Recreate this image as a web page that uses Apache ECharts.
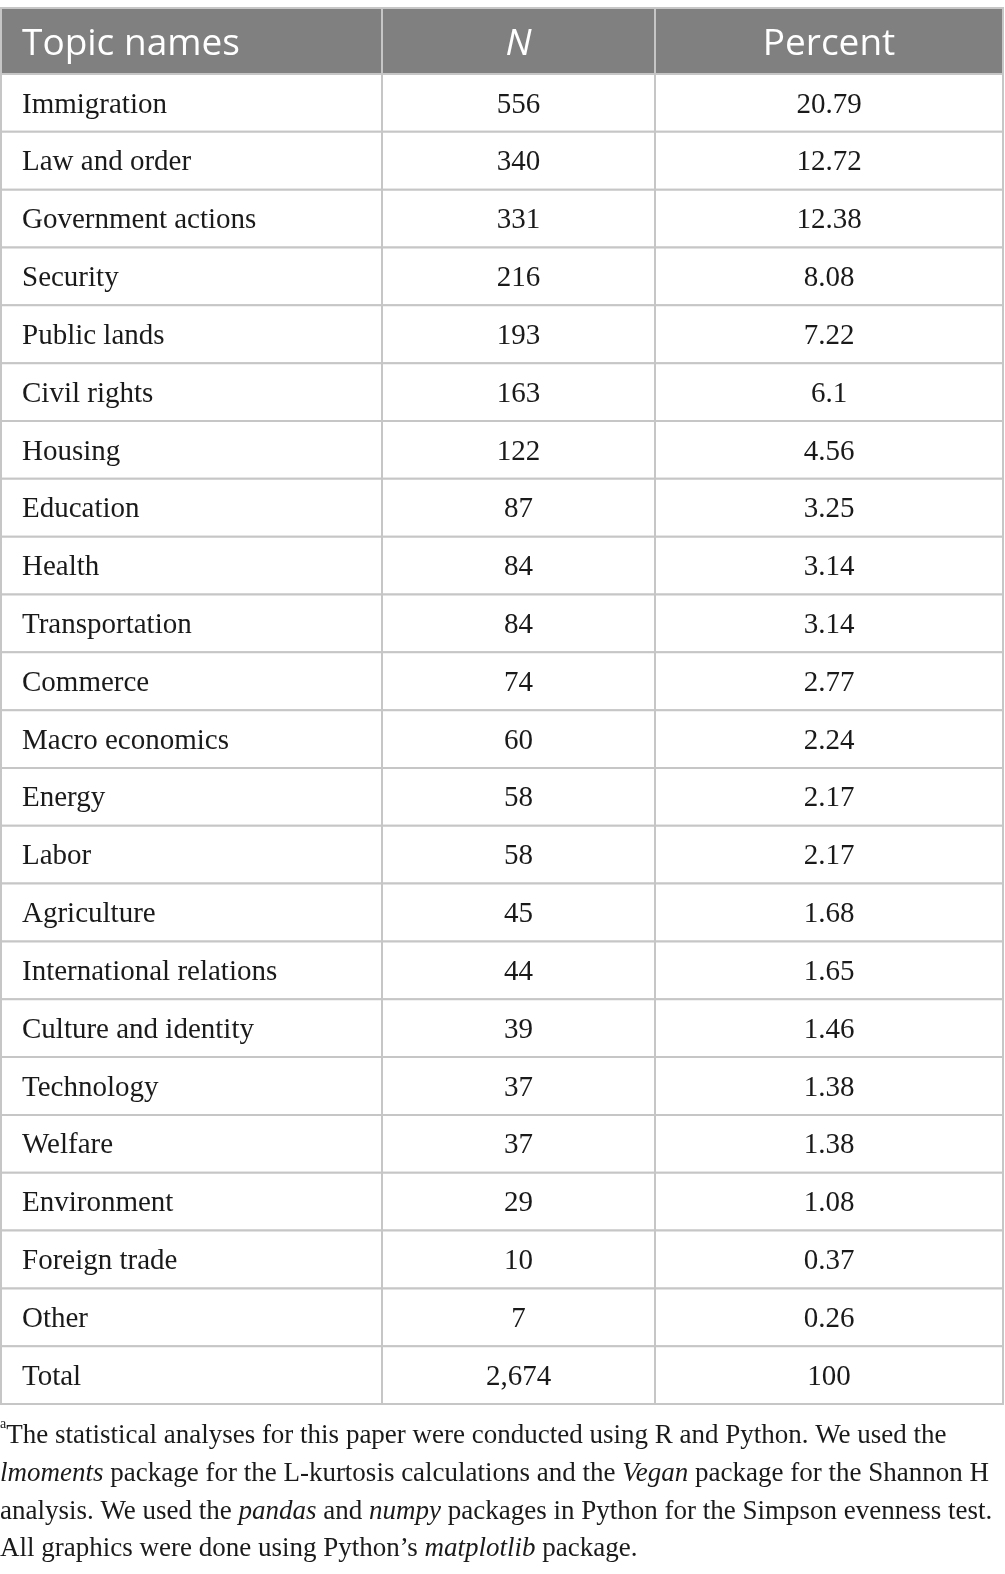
<!DOCTYPE html>
<html lang="en">
<head>
    <meta charset="UTF-8">
    <title>Topic names</title>
    <script src="https://cdn.jsdelivr.net/npm/echarts@6/dist/echarts.min.js"></script>
    <style>
        html, body { margin: 0; padding: 0; background: #fff; }
        #chart { width: 1005px; height: 1574px; }
    </style>
</head>
<body>
    <div id="chart"></div>
    <script>
        const headers = ['Topic names', 'N', 'Percent'];
        const topics = ['Immigration', 'Law and order', 'Government actions', 'Security', 'Public lands',
            'Civil rights', 'Housing', 'Education', 'Health', 'Transportation', 'Commerce',
            'Macro economics', 'Energy', 'Labor', 'Agriculture', 'International relations',
            'Culture and identity', 'Technology', 'Welfare', 'Environment', 'Foreign trade', 'Other', 'Total'];
        const counts = ['556', '340', '331', '216', '193', '163', '122', '87', '84', '84', '74',
            '60', '58', '58', '45', '44', '39', '37', '37', '29', '10', '7', '2,674'];
        const percents = ['20.79', '12.72', '12.38', '8.08', '7.22', '6.1', '4.56', '3.25', '3.14', '3.14', '2.77',
            '2.24', '2.17', '2.17', '1.68', '1.65', '1.46', '1.38', '1.38', '1.08', '0.37', '0.26', '100'];

        // layout of the table (axis units = px)
        const colEdges = [0, 381, 654, 1002];
        const headerH = 66;
        const rowH = 57.83;
        const rowEdge = (r) => r === 0 ? 0 : headerH + (r - 1) * rowH;

        const cells = [];
        headers.forEach((h, c) => cells.push({ value: [c, 0], text: h }));
        topics.forEach((t, i) => {
            cells.push({ value: [0, i + 1], text: t });
            cells.push({ value: [1, i + 1], text: counts[i] });
            cells.push({ value: [2, i + 1], text: percents[i] });
        });
        const totalH = rowEdge(topics.length + 1);

        function renderCell(params, api) {
            const c = api.value(0);
            const r = api.value(1);
            const p0 = api.coord([colEdges[c], rowEdge(r)]);
            const p1 = api.coord([colEdges[c + 1], rowEdge(r + 1)]);
            const isHead = r === 0;
            const txt = cells[params.dataIndex].text;
            const cx = c === 0 ? p0[0] + 21 : (p0[0] + p1[0]) / 2;
            return {
                type: 'group',
                children: [
                    {
                        type: 'rect',
                        shape: { x: p0[0], y: p0[1], width: p1[0] - p0[0], height: p1[1] - p0[1] },
                        style: { fill: isHead ? '#808080' : '#ffffff', stroke: '#c6c6c6', lineWidth: 2 }
                    },
                    {
                        type: 'text',
                        x: cx,
                        y: (p0[1] + p1[1]) / 2 + (isHead ? 3 : 2),
                        style: {
                            text: txt,
                            fill: isHead ? '#ffffff' : '#1a1a1a',
                            fontFamily: isHead ? 'Open Sans' : 'Liberation Serif',
                            fontSize: isHead ? 37 : 29,
                            fontStyle: isHead && c === 1 ? 'italic' : 'normal',
                            align: c === 0 ? 'left' : 'center',
                            verticalAlign: 'middle'
                        }
                    }
                ]
            };
        }

        const chart = echarts.init(document.getElementById('chart'));
        chart.setOption({
            animation: false,
            grid: { left: 1, top: 8, width: 1002, height: totalH },
            xAxis: { type: 'value', min: 0, max: 1002, show: false },
            yAxis: { type: 'value', min: 0, max: totalH, inverse: true, show: false },
            series: [{
                type: 'custom',
                renderItem: renderCell,
                data: cells,
                encode: { x: 0, y: 1 }
            }],
            graphic: [{
                type: 'text',
                left: 0,
                top: 1417,
                style: {
                    text: '{sup|a}{r|The statistical analyses for this paper were conducted using R and Python. We used the}\n' +
                        '{i|lmoments}{r| package for the L-kurtosis calculations and the }{i|Vegan}{r| package for the Shannon H}\n' +
                        '{r|analysis. We used the }{i|pandas}{r| and }{i|numpy}{r| packages in Python for the Simpson evenness test.}\n' +
                        '{r|All graphics were done using Python\u2019s }{i|matplotlib}{r| package.}',
                    fill: '#1a1a1a',
                    lineHeight: 37.8,
                    rich: {
                        r: { fontFamily: 'Liberation Serif', fontSize: 27, lineHeight: 37.8, fill: '#1a1a1a' },
                        i: { fontFamily: 'Liberation Serif', fontSize: 27, fontStyle: 'italic', lineHeight: 37.8, fill: '#1a1a1a' },
                        sup: { fontFamily: 'Liberation Serif', fontSize: 14, verticalAlign: 'top', lineHeight: 37.8, fill: '#1a1a1a' }
                    }
                }
            }]
        });
    </script>
</body>
</html>
